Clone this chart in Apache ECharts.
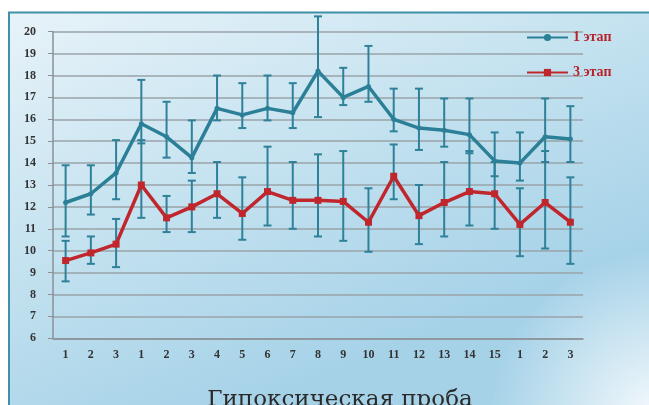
<!DOCTYPE html>
<html><head><meta charset="utf-8">
<script src="https://cdn.jsdelivr.net/npm/echarts@6/dist/echarts.min.js"></script>
<style>html,body{margin:0;padding:0;background:#fff}#c{width:649px;height:405px}</style>
</head><body><div id="c"></div><script>
const categories = ['1','2','3','1','2','3','4','5','6','7','8','9','10','11','12','13','14','15','1','2','3'];
const stage1 = [12.2,12.6,13.55,15.8,15.2,14.25,16.5,16.2,16.5,16.3,18.2,17.0,17.5,16.0,15.6,15.5,15.3,14.1,14.0,15.2,15.1];
const stage1High = [13.9,13.9,15.05,17.8,16.8,15.95,18.0,17.65,18.0,17.65,20.7,18.35,19.35,17.4,17.4,16.95,16.95,15.4,15.4,16.95,16.6];
const stage1Low = [10.65,11.65,12.35,14.9,14.25,13.55,15.95,15.6,15.95,15.6,16.1,16.65,16.8,15.45,14.6,14.75,14.45,13.4,13.2,14.05,14.05];
const stage3 = [9.55,9.9,10.3,13.0,11.5,12.0,12.6,11.7,12.7,12.3,12.3,12.25,11.3,13.4,11.6,12.2,12.7,12.6,11.2,12.2,11.3];
const stage3High = [10.45,10.65,11.45,15.05,12.5,13.2,14.05,13.35,14.75,14.05,14.4,14.55,12.85,14.85,13.0,14.05,14.55,14.05,12.85,14.55,13.35];
const stage3Low = [8.6,9.4,9.25,11.5,10.85,10.85,11.5,10.5,11.15,11.0,10.65,10.45,9.95,12.35,10.3,10.65,11.15,11.0,9.75,10.1,9.4];
const seriesNames = ['1 этап','3 этап'];
const xTitle = 'Гипоксическая проба';

const BLUE = '#2b7f97';
const RED = '#c0262c';
const ERR = '#2e8199';

function errRender(params, api) {
  const i = api.value(0);
  const lo = api.coord([i, api.value(1)]);
  const hi = api.coord([i, api.value(2)]);
  const w = 4;
  const style = {stroke: ERR, lineWidth: 2, fill: null};
  return {type: 'group', children: [
    {type: 'line', shape: {x1: lo[0], y1: lo[1], x2: hi[0], y2: hi[1]}, style: style},
    {type: 'line', shape: {x1: lo[0] - w, y1: lo[1], x2: lo[0] + w, y2: lo[1]}, style: style},
    {type: 'line', shape: {x1: hi[0] - w, y1: hi[1], x2: hi[0] + w, y2: hi[1]}, style: style}
  ]};
}
function errData(lo, hi) { return categories.map((c, i) => [i, lo[i], hi[i]]); }

const chart = echarts.init(document.getElementById('c'));
chart.setOption({
  backgroundColor: '#ffffff',
  animation: false,
  graphic: [
    {type: 'rect', z: -100, shape: {x: 9, y: 12.5, width: 660, height: 420},
      style: {fill: {type: 'linear', x: 0, y: 0, x2: 0.25, y2: 1, colorStops: [
        {offset: 0, color: '#e8f3f9'}, {offset: 0.5, color: '#c6e3f0'}, {offset: 1, color: '#a6d2e8'}]},
        stroke: '#3f90a8', lineWidth: 2}},
    {type: 'circle', z: -99, shape: {cx: 660, cy: 420, r: 170},
      style: {fill: {type: 'radial', x: 0.5, y: 0.5, r: 0.5, colorStops: [
        {offset: 0, color: 'rgba(255,255,255,0.9)'}, {offset: 1, color: 'rgba(255,255,255,0)'}]}}},
    {type: 'text', z: 10, x: 340, y: 412, style: {text: xTitle, textAlign: 'center', textVerticalAlign: 'bottom',
      fill: '#2a2a2a', font: '23px "DejaVu Serif"'}}
  ],
  grid: {left: 53, right: 66, top: 31.7, bottom: 66.7},
  legend: {
    orient: 'vertical', left: 521, top: 25, itemGap: 20, itemWidth: 41, itemHeight: 9,
    data: seriesNames,
    textStyle: {color: '#b8232a', fontFamily: 'Liberation Serif', fontWeight: 'bold', fontSize: 14, lineHeight: 15}
  },
  xAxis: {
    type: 'category', data: categories,
    axisLine: {lineStyle: {color: '#8a9096', width: 1.5}},
    axisTick: {length: 5, lineStyle: {color: '#8a9096'}},
    axisLabel: {margin: 11, color: '#333', fontFamily: 'Liberation Serif', fontWeight: 'bold', fontSize: 12, interval: 0}
  },
  yAxis: {
    type: 'value', min: 6, max: 20, interval: 1,
    axisLine: {show: true, lineStyle: {color: '#8a9096', width: 1.5}},
    axisTick: {show: true, length: 5, lineStyle: {color: '#8a9096'}},
    axisLabel: {margin: 17, color: '#333', fontFamily: 'Liberation Serif', fontWeight: 'bold', fontSize: 12},
    splitLine: {lineStyle: {color: '#9aa3a8', width: 1.5}}
  },
  series: [
    {type: 'custom', name: 'err1', renderItem: errRender, data: errData(stage1Low, stage1High), encode: {x: 0, y: [1, 2]}, clip: false, z: 2},
    {type: 'custom', name: 'err3', renderItem: errRender, data: errData(stage3Low, stage3High), encode: {x: 0, y: [1, 2]}, clip: false, z: 2},
    {type: 'line', name: seriesNames[0], data: stage1, symbol: 'circle', symbolSize: 5,
      lineStyle: {color: BLUE, width: 3.5}, itemStyle: {color: BLUE}, z: 4},
    {type: 'line', name: seriesNames[1], data: stage3, symbol: 'rect', symbolSize: 7,
      lineStyle: {color: RED, width: 3.5}, itemStyle: {color: RED}, z: 5}
  ]
});
</script></body></html>
